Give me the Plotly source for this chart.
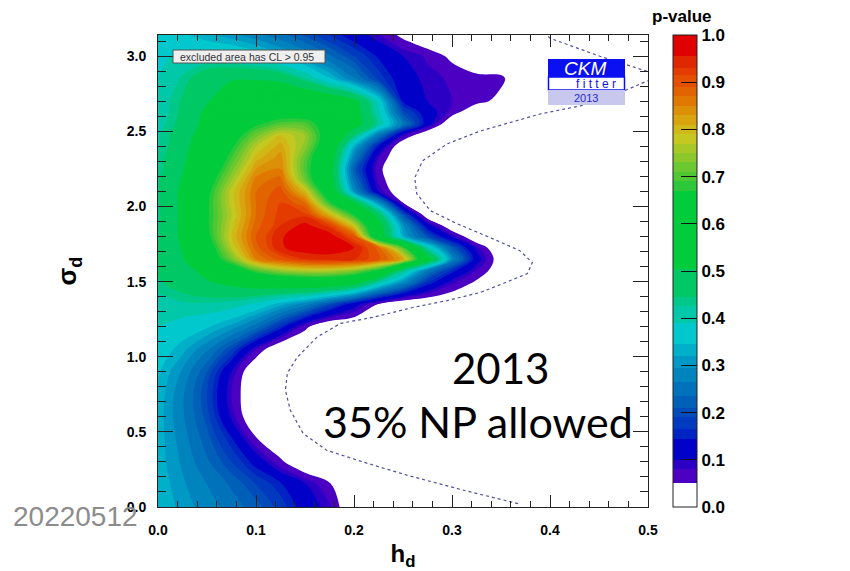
import plotly.graph_objects as go

# ---------------- data ----------------
h_grid = [0.0, 0.025, 0.05, 0.075, 0.1, 0.125, 0.15, 0.175, 0.2, 0.225, 0.25,
          0.275, 0.3, 0.325, 0.35, 0.375, 0.4, 0.425, 0.45, 0.475, 0.5]
sigma_grid = [0.0, 0.15, 0.3, 0.45, 0.6, 0.75, 0.9, 1.05, 1.2, 1.35,
              1.5, 1.575, 1.65, 1.725, 1.8, 1.875, 1.95, 2.025, 2.1, 2.175,
              2.25, 2.325, 2.4, 2.475, 2.55, 2.625, 2.7, 2.85, 3.0, 3.15]

# p-value, one row per sigma_d value, one column per h_d value
p_value = [
    [0.345, 0.31, 0.28, 0.25, 0.22, 0.18, 0.125, 0.085, 0, 0, 0, 0, 0, 0, 0, 0, 0, 0, 0, 0, 0],      # 0.00
    [0.34, 0.30, 0.265, 0.23, 0.19, 0.15, 0.105, 0.055, 0, 0, 0, 0, 0, 0, 0, 0, 0, 0, 0, 0, 0],      # 0.15
    [0.335, 0.29, 0.24, 0.19, 0.13, 0.06, 0, 0, 0, 0, 0, 0, 0, 0, 0, 0, 0, 0, 0, 0, 0],              # 0.30
    [0.335, 0.28, 0.22, 0.15, 0.055, 0, 0, 0, 0, 0, 0, 0, 0, 0, 0, 0, 0, 0, 0, 0, 0],                # 0.45
    [0.335, 0.27, 0.2, 0.095, 0, 0, 0, 0, 0, 0, 0, 0, 0, 0, 0, 0, 0, 0, 0, 0, 0],                    # 0.60
    [0.34, 0.27, 0.19, 0.08, 0, 0, 0, 0, 0, 0, 0, 0, 0, 0, 0, 0, 0, 0, 0, 0, 0],                     # 0.75
    [0.35, 0.29, 0.21, 0.1, 0, 0, 0, 0, 0, 0, 0, 0, 0, 0, 0, 0, 0, 0, 0, 0, 0],                      # 0.90
    [0.37, 0.33, 0.27, 0.19, 0.08, 0, 0, 0, 0, 0, 0, 0, 0, 0, 0, 0, 0, 0, 0, 0, 0],                  # 1.05
    [0.39, 0.37, 0.35, 0.31, 0.25, 0.16, 0.06, 0, 0, 0, 0, 0, 0, 0, 0, 0, 0, 0, 0, 0, 0],            # 1.20
    [0.41, 0.42, 0.42, 0.41, 0.38, 0.33, 0.28, 0.2, 0.12, 0.048, 0, 0, 0, 0, 0, 0, 0, 0, 0, 0, 0],   # 1.35
    [0.44, 0.47, 0.5, 0.53, 0.56, 0.58, 0.6, 0.6, 0.56, 0.42, 0.3, 0.17, 0.09, 0.045, 0, 0, 0, 0, 0, 0, 0],   # 1.50
    [0.45, 0.48, 0.53, 0.6, 0.7, 0.75, 0.77, 0.77, 0.74, 0.66, 0.44, 0.27, 0.16, 0.08, 0.02, 0, 0, 0, 0, 0, 0],  # 1.575
    [0.45, 0.5, 0.6, 0.72, 0.85, 0.9, 0.93, 0.94, 0.935, 0.9, 0.82, 0.56, 0.29, 0.12, 0.02, 0, 0, 0, 0, 0, 0],  # 1.65
    [0.45, 0.51, 0.62, 0.77, 0.88, 0.95, 0.975, 0.975, 0.955, 0.88, 0.7, 0.4, 0.22, 0.09, 0, 0, 0, 0, 0, 0, 0],  # 1.725
    [0.44, 0.52, 0.65, 0.79, 0.89, 0.95, 0.985, 0.975, 0.9, 0.58, 0.33, 0.2, 0.1, 0, 0, 0, 0, 0, 0, 0, 0],   # 1.80
    [0.44, 0.52, 0.66, 0.78, 0.88, 0.93, 0.965, 0.92, 0.78, 0.55, 0.3, 0.12, 0, 0, 0, 0, 0, 0, 0, 0, 0],     # 1.875
    [0.44, 0.52, 0.66, 0.77, 0.87, 0.925, 0.92, 0.8, 0.66, 0.47, 0.2, 0, 0, 0, 0, 0, 0, 0, 0, 0, 0],         # 1.95
    [0.44, 0.52, 0.66, 0.78, 0.87, 0.915, 0.87, 0.68, 0.52, 0.3, 0.05, 0, 0, 0, 0, 0, 0, 0, 0, 0, 0],        # 2.025
    [0.44, 0.52, 0.65, 0.78, 0.87, 0.9, 0.8, 0.6, 0.3, 0.1, 0, 0, 0, 0, 0, 0, 0, 0, 0, 0, 0],                # 2.10
    [0.44, 0.51, 0.63, 0.75, 0.86, 0.88, 0.72, 0.56, 0.25, 0.07, 0, 0, 0, 0, 0, 0, 0, 0, 0, 0, 0],           # 2.175
    [0.43, 0.5, 0.6, 0.72, 0.83, 0.85, 0.7, 0.56, 0.22, 0.06, 0, 0, 0, 0, 0, 0, 0, 0, 0, 0, 0],              # 2.25
    [0.43, 0.49, 0.58, 0.69, 0.8, 0.84, 0.71, 0.57, 0.27, 0.08, 0, 0, 0, 0, 0, 0, 0, 0, 0, 0, 0],            # 2.325
    [0.42, 0.48, 0.57, 0.66, 0.77, 0.82, 0.74, 0.6, 0.33, 0.14, 0, 0, 0, 0, 0, 0, 0, 0, 0, 0, 0],            # 2.40
    [0.42, 0.47, 0.55, 0.63, 0.72, 0.79, 0.75, 0.62, 0.45, 0.26, 0.09, 0, 0, 0, 0, 0, 0, 0, 0, 0, 0],        # 2.475
    [0.41, 0.46, 0.53, 0.6, 0.66, 0.7, 0.7, 0.63, 0.55, 0.42, 0.26, 0.12, 0, 0, 0, 0, 0, 0, 0, 0, 0],        # 2.55
    [0.4, 0.455, 0.52, 0.57, 0.61, 0.63, 0.63, 0.6, 0.55, 0.4, 0.2, 0.12, 0.07, 0, 0, 0, 0, 0, 0, 0, 0],     # 2.625
    [0.4, 0.45, 0.5, 0.55, 0.58, 0.6, 0.6, 0.58, 0.53, 0.38, 0.14, 0.1, 0.08, 0.065, 0.035, 0, 0, 0, 0, 0, 0],  # 2.70
    [0.39, 0.43, 0.48, 0.5, 0.5, 0.49, 0.43, 0.35, 0.27, 0.18, 0.12, 0.09, 0.075, 0.065, 0.06, 0, 0, 0, 0, 0, 0],  # 2.85
    [0.38, 0.4, 0.4, 0.39, 0.37, 0.33, 0.29, 0.24, 0.19, 0.14, 0.1, 0.075, 0.04, 0, 0, 0, 0, 0, 0, 0, 0],     # 3.00
    [0.37, 0.35, 0.32, 0.3, 0.27, 0.24, 0.2, 0.16, 0.12, 0.08, 0.035, 0, 0, 0, 0, 0, 0, 0, 0, 0, 0],          # 3.15
]
assert len(p_value) == len(sigma_grid)
assert all(len(r) == len(h_grid) for r in p_value)

# dashed contour (earlier result)
dash_h = [0.394, 0.40, 0.451, 0.499, 0.52, 0.499, 0.471, 0.431, 0.39, 0.329, 0.295, 0.27,
          0.262, 0.264, 0.278, 0.305, 0.339, 0.369, 0.382, 0.377, 0.352, 0.329, 0.295,
          0.26, 0.219, 0.186, 0.162, 0.142, 0.132, 0.13, 0.135, 0.148, 0.172, 0.213,
          0.254, 0.311, 0.369]
dash_sigma = [3.16, 3.12, 3.0, 2.90, 2.87, 2.835, 2.756, 2.67, 2.616, 2.503, 2.417, 2.304,
              2.191, 2.085, 1.972, 1.886, 1.793, 1.707, 1.627, 1.554, 1.487, 1.428, 1.374,
              1.328, 1.262, 1.222, 1.129, 0.996, 0.89, 0.777, 0.644, 0.491, 0.378, 0.292,
              0.212, 0.113, 0.02]

# colour bands of the palette
band_bounds = [0.0, 0.05, 0.08, 0.10, 0.144, 0.165, 0.186, 0.207, 0.235, 0.264, 0.292,
               0.32, 0.345, 0.39, 0.426, 0.447, 0.503, 0.67, 0.691, 0.712, 0.733, 0.751,
               0.772, 0.793, 0.81, 0.832, 0.853, 0.874, 0.891, 0.916, 0.934, 0.955, 1.0]
band_colors = ["#ffffff", "#4c00c2", "#2c00c4", "#0000c8", "#0024c2", "#003abe", "#004cba",
               "#0060b8", "#0072ba", "#0084be", "#0098c4", "#00b0c8", "#00c8cc", "#00c8a8",
               "#00c888", "#00c864", "#00cc3c", "#2cc83a", "#50c834", "#6cc830", "#8cc82c",
               "#a8c828", "#c4c820", "#d0b818", "#d8a410", "#dc9008", "#e07800", "#e06400",
               "#e45000", "#e43c00", "#e02800", "#e00000"]

cbar_ticks = [0.0, 0.1, 0.2, 0.3, 0.4, 0.5, 0.6, 0.7, 0.8, 0.9, 1.0]

# ---------------- build the figure ----------------
CS = 0.005  # contour step
NC = 201    # number of contour levels from 0 to 1


def pos(v):
    # where value v lands on the contour colour map
    return min(1.0, max(0.0, (v + CS / 2) / (NC * CS)))


colorscale = []
for i, col in enumerate(band_colors):
    lo = 0.0 if i == 0 else pos(band_bounds[i])
    hi = 1.0 if i == len(band_colors) - 1 else pos(band_bounds[i + 1])
    colorscale.append([lo, col])
    colorscale.append([hi, col])

BOLD = "Liberation Sans"

fig = go.Figure()
fig.add_trace(go.Contour(
    x=h_grid, y=sigma_grid, z=p_value,
    colorscale=colorscale,
    contours=dict(start=0.0, end=1.0, size=CS, coloring="fill", showlines=False),
    line=dict(width=0, smoothing=1.0),
    zmin=0, zmax=1,
    hoverinfo="skip",
    colorbar=dict(
        x=(673 - 158) / 490, xanchor="left", xpad=0, ypad=0,
        y=0.5, yanchor="middle", len=1.0, lenmode="fraction",
        thickness=24, thicknessmode="pixels",
        outlinewidth=1, outlinecolor="#222",
        tickvals=cbar_ticks, ticktext=["%.1f" % t for t in cbar_ticks],
        ticks="inside", ticklen=16, tickcolor="#111", tickwidth=1,
        tickfont=dict(family=BOLD, size=17, color="black", weight="bold"),
    ),
))

fig.add_trace(go.Scatter(
    x=dash_h, y=dash_sigma, mode="lines",
    line=dict(color="#50509c", width=1.2, dash="3px,3px"),
    hoverinfo="skip", showlegend=False,
))


def px(x):
    return (x - 158) / 490


def py(y):
    return (507 - y) / 472


shapes = [
    dict(type="rect", xref="paper", yref="paper", x0=px(173), x1=px(325), y0=py(63), y1=py(50),
         fillcolor="#efefef", line=dict(color="#555", width=1), layer="above"),
    dict(type="rect", xref="paper", yref="paper", x0=px(548), x1=px(625), y0=py(77), y1=py(59),
         fillcolor="#0a10f0", line=dict(width=0), layer="above"),
    dict(type="rect", xref="paper", yref="paper", x0=px(548.5), x1=px(624.5), y0=py(90), y1=py(77),
         fillcolor="white", line=dict(color="#0a10f0", width=1.5), layer="above"),
    dict(type="rect", xref="paper", yref="paper", x0=px(548), x1=px(625), y0=py(105), y1=py(90),
         fillcolor="#c8c8ee", line=dict(width=0), layer="above"),
]


def note(text, x, y, size, color="black", family="Liberation Sans", weight="normal"):
    return dict(text=text, x=px(x), y=py(y), xref="paper", yref="paper", showarrow=False,
                xanchor="center", yanchor="middle",
                font=dict(family=family, size=size, color=color, weight=weight))


annotations = [
    note("excluded area has CL &gt; 0.95", 247, 56.5, 10.5, "#333"),
    note("<i>CKM</i>", 585, 68, 19, "white"),
    note("f i t t e r", 596, 83.5, 12, "#0a10f0"),
    note("2013", 586, 97.5, 11, "#2828c8"),
    note("p-value", 682, 16, 17, "black", BOLD, "bold"),
    note("2013", 500, 368, 42, "black", "Lato"),
    note("35% NP allowed", 478, 421, 43, "black", "Lato"),
    note("20220512", 75, 516, 28, "#8c8c8c"),
]

axis_common = dict(
    showline=True, linecolor="#222", linewidth=1, mirror="ticks",
    ticks="inside", tickcolor="#222", tickwidth=1,
    showgrid=False, zeroline=False, tickformat=".1f",
    tickfont=dict(family=BOLD, size=14, color="black", weight="bold"),
)

# the page body adds an 8 px margin, so the figure is 8 px smaller on each side
fig.update_layout(
    width=842, height=563,
    margin=dict(l=150, r=202, t=27, b=64, autoexpand=False),
    paper_bgcolor="white", plot_bgcolor="white",
    showlegend=False,
    xaxis=dict(range=[0, 0.5], dtick=0.1, ticklen=12, ticklabelstandoff=10,
               minor=dict(dtick=0.02, ticks="inside", ticklen=6, tickcolor="#222", showgrid=False),
               title=dict(text="h<sub>d</sub>", standoff=8,
                          font=dict(family=BOLD, size=24, color="black", weight="bold")),
               **axis_common),
    yaxis=dict(range=[0, 3.1416], dtick=0.5, ticklen=15, ticklabelstandoff=8,
               minor=dict(dtick=0.1, ticks="inside", ticklen=8, tickcolor="#222", showgrid=False),
               title=dict(text="σ<sub>d</sub>", standoff=42,
                          font=dict(family=BOLD, size=26, color="black", weight="bold")),
               **axis_common),
    shapes=shapes,
    annotations=annotations,
)

fig.write_html("out.html")
